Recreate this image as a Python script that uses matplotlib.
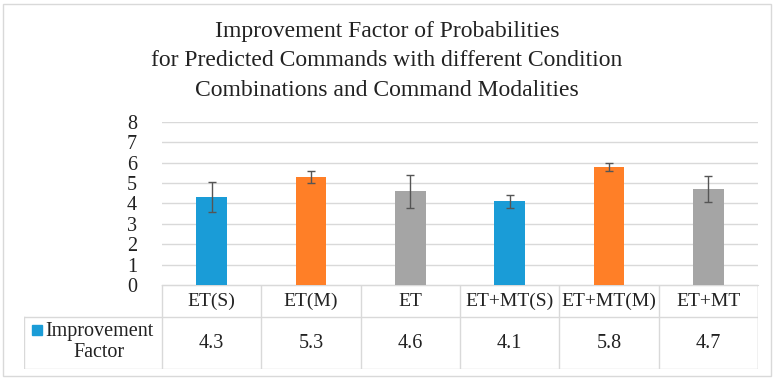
import matplotlib.pyplot as plt
from matplotlib.patches import Rectangle
from matplotlib.lines import Line2D

# Data
categories = ["ET(S)", "ET(M)", "ET", "ET+MT(S)", "ET+MT(M)", "ET+MT"]
values = [4.3, 5.3, 4.6, 4.1, 5.8, 4.7]
errors = [0.74, 0.31, 0.81, 0.32, 0.19, 0.65]
bar_colors = ["#1A9CD7", "#FF7F27", "#A5A5A5", "#1A9CD7", "#FF7F27", "#A5A5A5"]
series_name = "Improvement\nFactor"
title = ("Improvement Factor of Probabilities\n"
         "for Predicted Commands with different Condition\n"
         "Combinations and Command Modalities")

W, H = 775, 379
grid_c = "#D9D9D9"
plt.rcParams['font.family'] = ['Liberation Serif', 'DejaVu Serif']

fig = plt.figure(figsize=(W / 100, H / 100), dpi=100)

def px_axes(x0, y0, x1, y1):
    # pixel box (top-left origin) -> figure axes
    return fig.add_axes([x0 / W, 1 - y1 / H, (x1 - x0) / W, (y1 - y0) / H])

# outer border
fig.patches.append(Rectangle((3 / W, 3 / H), (W - 7) / W, (H - 7) / H,
                             transform=fig.transFigure, fill=False,
                             edgecolor=grid_c, lw=1))

fig.text(387 / W, 1 - 61 / H, title, ha="center", va="center",
         fontsize=17, linespacing=1.55, color="#222222")

# main chart
ax = px_axes(162, 122, 758, 285)
x = list(range(len(categories)))
ax.bar(x, values, width=0.31, color=bar_colors, zorder=3)
ax.errorbar(x, values, yerr=errors, fmt="none", ecolor="#555555",
            elinewidth=1, capsize=3, capthick=1, zorder=4)
ax.set_xlim(-0.5, len(categories) - 0.5)
ax.set_ylim(0, 8)
ax.set_yticks(range(9))
ax.yaxis.grid(True, color=grid_c, lw=1)
ax.set_axisbelow(True)
ax.set_xticks([])
for s in ["top", "right", "left"]:
    ax.spines[s].set_visible(False)
ax.spines["bottom"].set_color(grid_c)
ax.tick_params(axis="y", length=0, pad=18, labelsize=14.5, labelcolor="#222222")

# data table under the chart
left_w = 138 / 99.33
tx = px_axes(24, 285, 758, 369)
tx.set_xlim(-0.5 - left_w, len(categories) - 0.5)
tx.set_ylim(84, 0)
tx.axis("off")
xl = -0.5 - left_w
xr = len(categories) - 0.5
tx.add_line(Line2D([-0.5, xr], [0, 0], color=grid_c, lw=1))
tx.add_line(Line2D([xl, xr], [32, 32], color=grid_c, lw=1))
tx.add_line(Line2D([xl, xr], [83.5, 83.5], color=grid_c, lw=1))
tx.add_line(Line2D([xl, xl], [32, 83.5], color=grid_c, lw=1))
for i in range(len(categories) + 1):
    tx.add_line(Line2D([i - 0.5, i - 0.5], [0, 83.5], color=grid_c, lw=1))
tx.add_line(Line2D([xr, xr], [0, 83.5], color=grid_c, lw=1))
for i, (c, v) in enumerate(zip(categories, values)):
    tx.text(i, 16.5, c, ha="center", va="center", fontsize=14, color="#222222")
    tx.text(i, 58, f"{v:.1f}", ha="center", va="center", fontsize=14.5, color="#222222")
tx.add_patch(Rectangle((xl + 0.08, 40), 0.1, 10, color=bar_colors[0]))
tx.text(-0.5 - left_w / 2 + 0.06, 57, series_name, ha="center", va="center",
        fontsize=14.5, linespacing=1.2, color="#222222")

fig.savefig("out.png", dpi=100)
